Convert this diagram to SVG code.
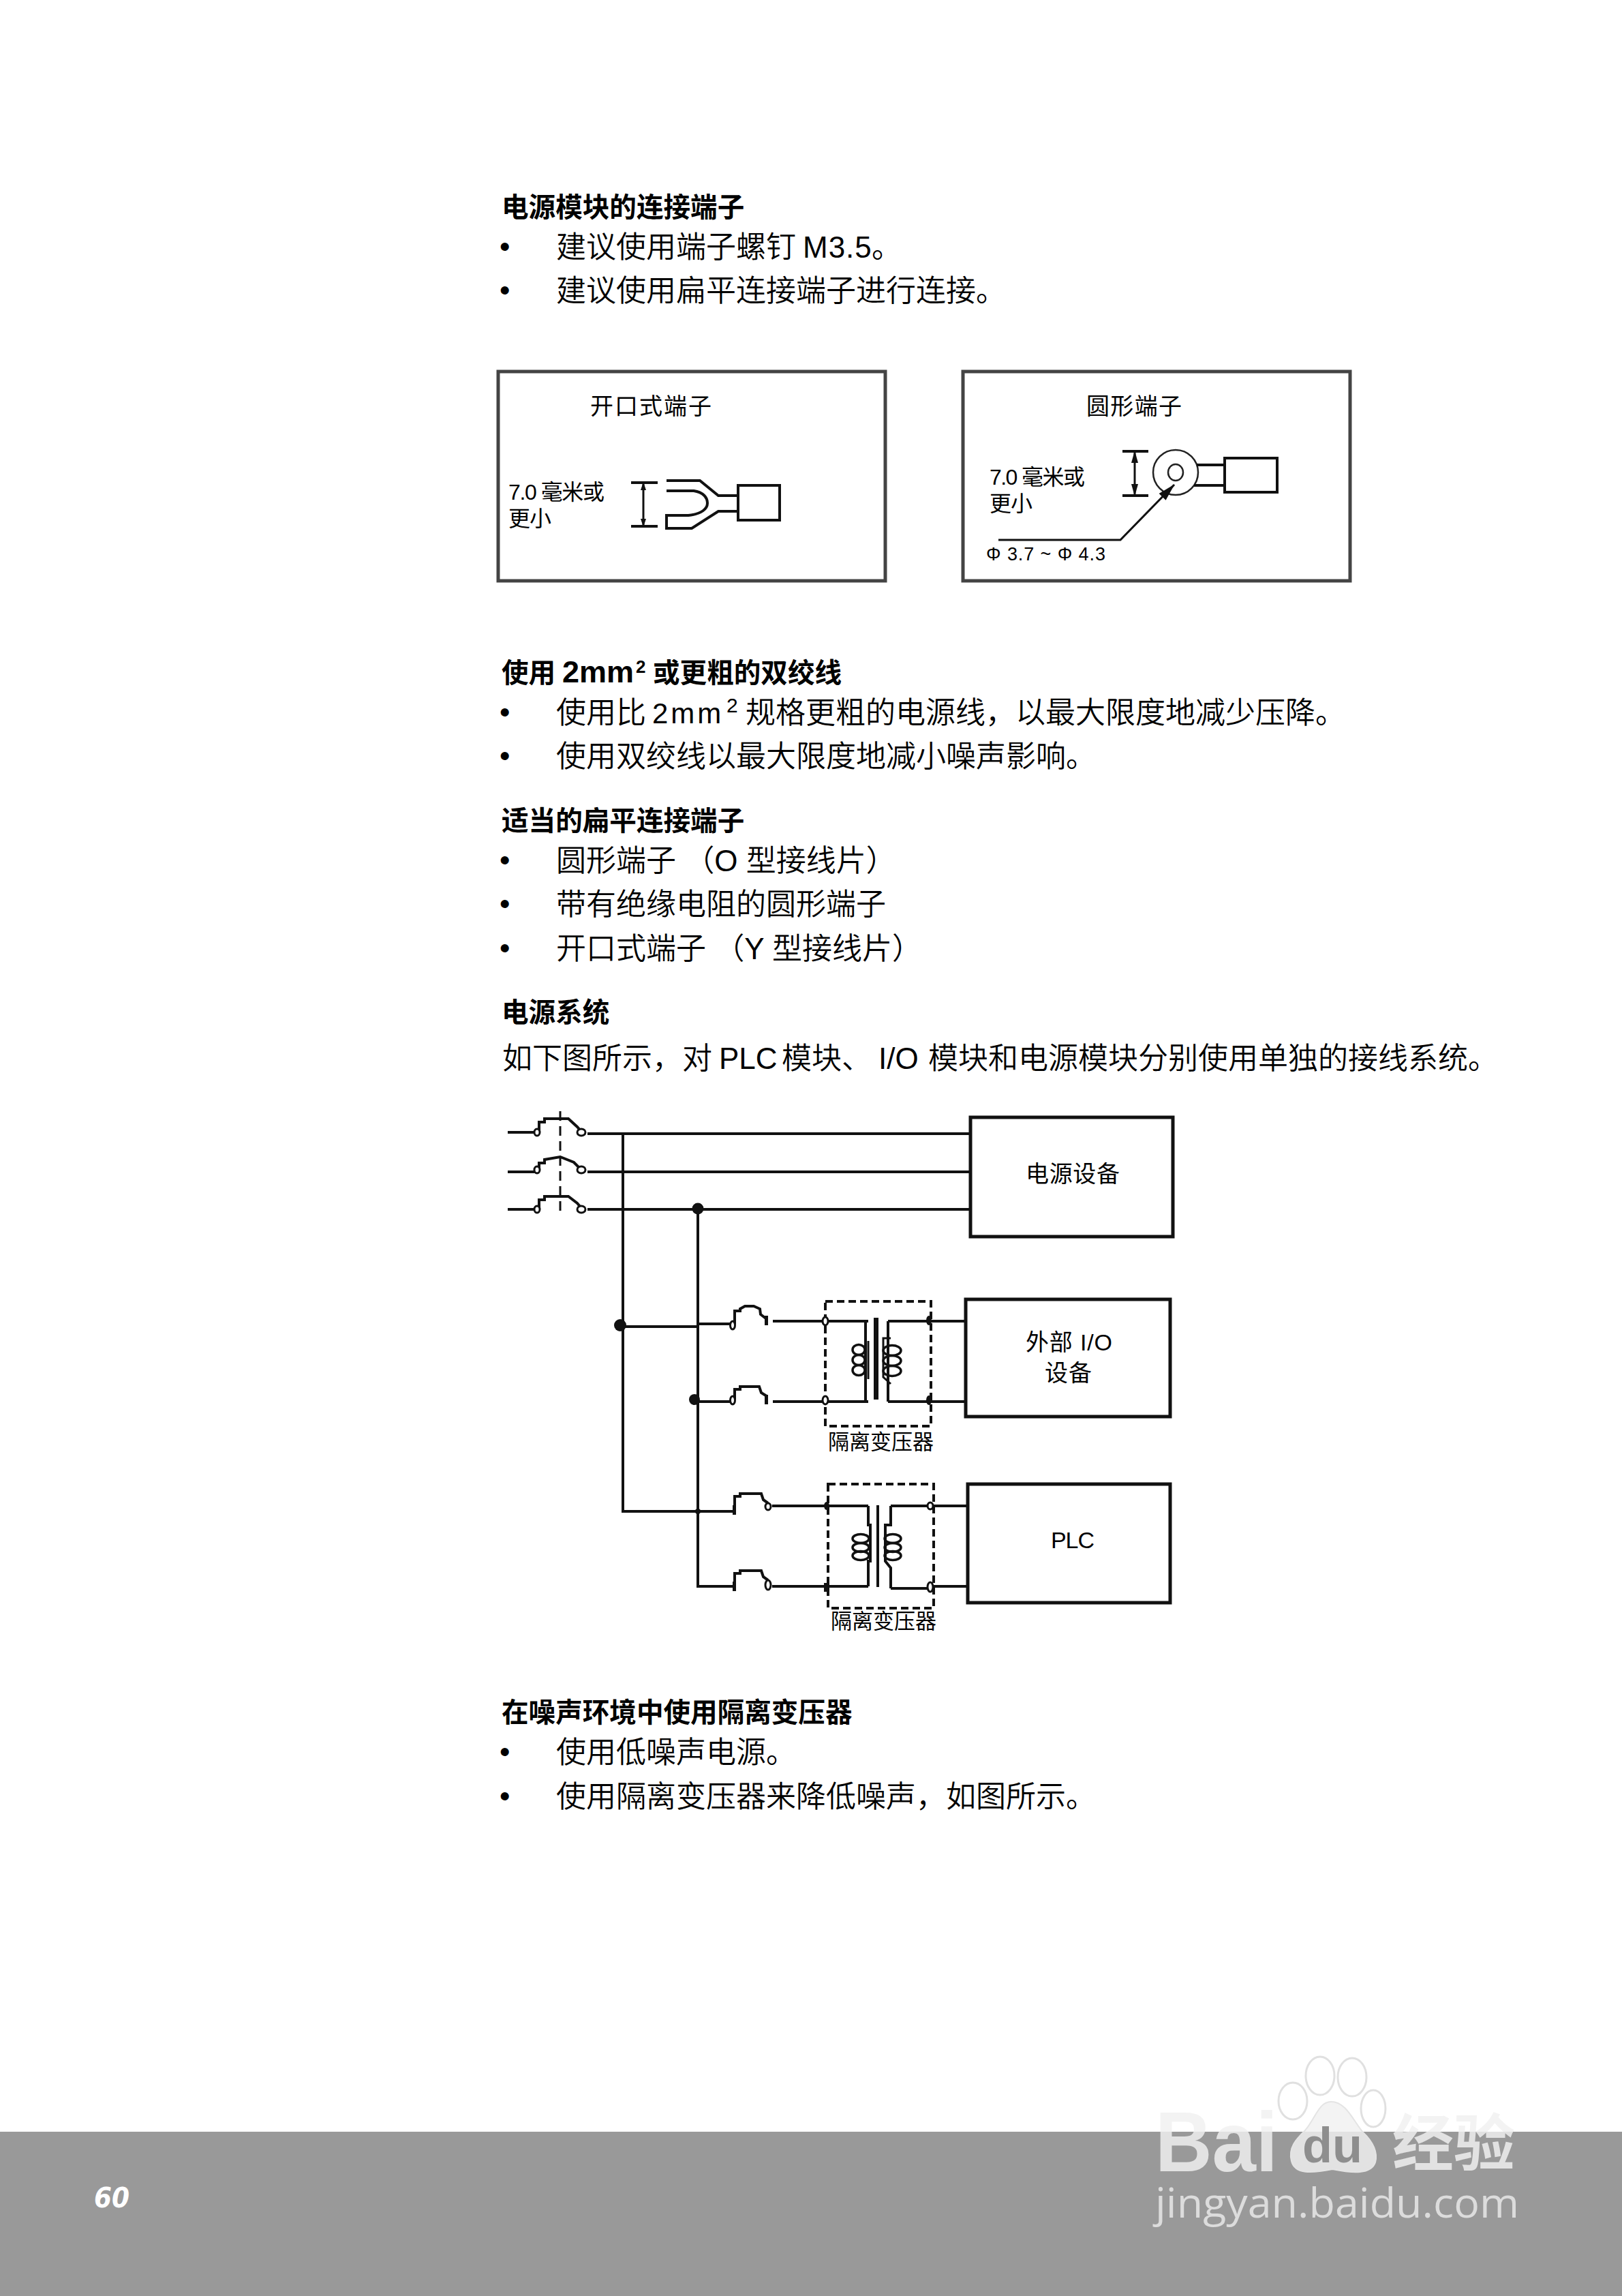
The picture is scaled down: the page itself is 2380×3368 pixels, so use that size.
<svg xmlns="http://www.w3.org/2000/svg" width="2380" height="3368" viewBox="0 0 2380 3368">
<style>
text{font-family:"Liberation Sans","Noto Sans CJK SC",sans-serif;fill:#000}
.h{font-size:39.6px;font-weight:700}
.b{font-size:44px;font-weight:350}
.s{font-size:32px;font-weight:400}
.n{font-size:34px;font-weight:400}
.t{font-size:31px;font-weight:400}
.box{fill:#fff;stroke:#444;stroke-width:5}
.dev{fill:#fff;stroke:#111;stroke-width:5}
.w{fill:none;stroke:#111;stroke-width:4}
.thin{fill:none;stroke:#111;stroke-width:3}
.ring{fill:none;stroke:#222;stroke-width:2.5}
.term{fill:#fff;stroke:#111;stroke-width:3}
.dot{fill:#111;stroke:none}
.dash{fill:none;stroke:#111;stroke-width:4;stroke-dasharray:11 6}
.brk{fill:none;stroke:#111;stroke-width:3;stroke-dasharray:14 8}
.coil{fill:none;stroke:#111;stroke-width:3.5}
</style>
<defs>
<marker id="ah" markerWidth="18" markerHeight="10" refX="17" refY="5" orient="auto-start-reverse" markerUnits="userSpaceOnUse" viewBox="0 0 18 10"><path d="M0 0L18 5L0 10Z" fill="#111"/></marker>
<marker id="as" markerWidth="12" markerHeight="8" refX="11" refY="4" orient="auto-start-reverse" markerUnits="userSpaceOnUse" viewBox="0 0 12 8"><path d="M0 0L12 4L0 8Z" fill="#111"/></marker>
<marker id="al" markerWidth="26" markerHeight="14" refX="25" refY="7" orient="auto" markerUnits="userSpaceOnUse" viewBox="0 0 26 14"><path d="M0 0L26 7L0 14Z" fill="#111"/></marker>
<linearGradient id="wm" gradientUnits="userSpaceOnUse" x1="0" y1="3000" x2="0" y2="3300"><stop offset="0.423" stop-color="#f3f3f3"/><stop offset="0.423" stop-color="#e2e2e2"/></linearGradient>
</defs>
<rect width="2380" height="3368" fill="#fff"/>

<g id="copy">
<text class="h" x="736" y="318">电源模块的连接端子</text>
<text class="b" x="733" y="377">•</text><text class="b" x="816" y="378">建议使用端子螺钉<tspan x="1178" letter-spacing="1">M3.5</tspan><tspan x="1279">。</tspan></text>
<text class="b" x="733" y="441">•</text><text class="b" x="816" y="442">建议使用扁平连接端子进行连接。</text>
<text class="h" x="736" y="1001">使用<tspan x="825" font-size="45">2mm</tspan><tspan x="933" font-size="26" dy="-14">2</tspan><tspan x="958" dy="14">或更粗的双绞线</tspan></text>
<text class="b" x="733" y="1060">•</text><text class="b" x="816" y="1061">使用比<tspan x="957" font-size="42" letter-spacing="4">2mm</tspan><tspan x="1066" font-size="30" dy="-16">2</tspan><tspan x="1094" dy="16">规格更粗的电源线，以最大限度地减少压降。</tspan></text>
<text class="b" x="733" y="1124">•</text><text class="b" x="816" y="1125">使用双绞线以最大限度地减小噪声影响。</text>
<text class="h" x="736" y="1218">适当的扁平连接端子</text>
<text class="b" x="733" y="1277">•</text><text class="b" x="816" y="1278">圆形端子 （O 型接线片）</text>
<text class="b" x="733" y="1341">•</text><text class="b" x="816" y="1342">带有绝缘电阻的圆形端子</text>
<text class="b" x="733" y="1406">•</text><text class="b" x="816" y="1407">开口式端子 （Y 型接线片）</text>
<text class="h" x="736" y="1499">电源系统</text>
<text class="b" x="737" y="1568">如下图所示，对<tspan x="1055">PLC</tspan><tspan x="1147">模块、</tspan><tspan x="1289">I/O</tspan><tspan x="1362">模块和电源模块分别使用单独的接线系统。</tspan></text>
<text class="h" x="736" y="2526">在噪声环境中使用隔离变压器</text>
<text class="b" x="733" y="2585">•</text><text class="b" x="816" y="2586">使用低噪声电源。</text>
<text class="b" x="733" y="2650">•</text><text class="b" x="816" y="2651">使用隔离变压器来降低噪声，如图所示。</text>
</g>

<g id="fork-terminal">
<rect class="box" x="731" y="545" width="568" height="307"/>
<text class="n" x="866" y="608" textLength="178">开口式端子</text>
<text class="s" x="746" y="733" textLength="141">7.0 毫米或</text>
<text class="s" x="746" y="772" textLength="63">更小</text>
<path class="w" d="M926 708H965M926 772H965"/>
<path class="thin" d="M944 708V772" marker-start="url(#as)" marker-end="url(#as)"/>
<path class="w" d="M978 705H1027L1054 727H1083M978 720H1018C1032 722 1038 730 1038 738C1038 746 1030 754 1010 756H978V775H1015L1054 750H1083"/>
<rect class="w" x="1083" y="712" width="61" height="51"/>
</g>

<g id="ring-terminal">
<rect class="box" x="1413" y="545" width="568" height="307"/>
<text class="n" x="1594" y="608" textLength="140">圆形端子</text>
<text class="s" x="1452" y="711" textLength="140">7.0 毫米或</text>
<text class="s" x="1452" y="750" textLength="63">更小</text>
<path class="w" d="M1647 662H1685M1647 727H1685"/>
<path class="thin" d="M1665 662V727" marker-start="url(#ah)" marker-end="url(#ah)"/>
<circle class="ring" cx="1725" cy="693" r="33"/>
<ellipse class="ring" cx="1725" cy="693" rx="11" ry="12"/>
<path class="w" d="M1756 682H1797M1752 712H1797"/>
<rect class="w" x="1797" y="672" width="77" height="50"/>
<path class="thin" d="M1465 792H1644L1723 711" marker-end="url(#al)"/>
<text x="1447" y="822" font-size="27" font-weight="400" textLength="175">Φ 3.7 ~ Φ 4.3</text>
</g>

<g id="connectors">
<path class="w" d="M745 1661H787M862 1663H1424M745 1719H787M862 1719H1424M745 1774H787M862 1774H1424"/>
<path class="w" d="M914 1663V2217H1075M1024 1774V2327H1075M914 1946H1024M1024 1942H1072M1024 2056H1072"/>
<path class="w" d="M1134 1938H1274M1303 1938H1417M1134 2056H1274M1303 2056H1417"/>
<path class="w" d="M1133 2209H1274M1307 2209H1420M1133 2327H1274M1307 2330H1365M1365 2327H1420"/>
<circle class="dot" cx="910" cy="1944" r="9"/>
<circle class="dot" cx="1024" cy="1773" r="8.5"/>
<circle class="dot" cx="1019" cy="2053" r="8"/>
<circle class="dot" cx="1024" cy="2217" r="4"/>
</g>

<g id="main-breaker">
<path class="brk" d="M822 1630V1778"/>
<path class="w" d="M791 1660V1646H799V1641H834L847 1653L853 1660"/>
<path class="w" d="M791 1718V1706H799V1701L822 1697L842 1705L853 1716"/>
<path class="w" d="M791 1773V1760H799V1755H834L847 1765L853 1772"/>
<ellipse class="term" cx="788" cy="1661" rx="4" ry="5"/><ellipse class="term" cx="853" cy="1661" rx="6" ry="5"/>
<ellipse class="term" cx="788" cy="1716" rx="4" ry="5"/><ellipse class="term" cx="853" cy="1716" rx="6" ry="5"/>
<ellipse class="term" cx="788" cy="1774" rx="4" ry="5"/><ellipse class="term" cx="853" cy="1774" rx="6" ry="5"/>
</g>

<g id="io-breakers">
<path class="w" d="M1078 1943V1923H1086V1920L1093 1916H1106L1115 1920L1116 1928L1125 1935"/>
<path class="w" d="M1078 2053V2038H1086V2034H1114L1117 2043L1125 2048"/>
<ellipse class="term" cx="1075" cy="1944" rx="3.5" ry="6"/><ellipse class="term" cx="1075" cy="2054" rx="3.5" ry="6"/>
<rect class="dot" x="1122" y="1930" width="5" height="14"/><rect class="dot" x="1122" y="2046" width="5" height="14"/>
</g>

<g id="io-transformer">
<path class="dash" d="M1211 1909H1366V2092H1211Z"/>
<path class="w" d="M1270 1938V2055"/>
<rect class="dot" x="1282" y="1933" width="7" height="120"/>
<path class="w" d="M1303 1938V2056"/>
<path class="thin" d="M1274 1967V2023M1307 1963H1296V2020L1307 2030"/>
<ellipse class="coil" cx="1260" cy="1980" rx="9" ry="7.5"/><ellipse class="coil" cx="1260" cy="1995" rx="9" ry="7.5"/><ellipse class="coil" cx="1260" cy="2010" rx="9" ry="7.5"/>
<ellipse class="coil" cx="1309" cy="1981" rx="13" ry="7.5"/><ellipse class="coil" cx="1309" cy="1996" rx="13" ry="7.5"/><ellipse class="coil" cx="1309" cy="2011" rx="13" ry="7.5"/>
<ellipse class="term" cx="1211" cy="1938" rx="4" ry="6"/><ellipse class="term" cx="1211" cy="2054" rx="4" ry="6"/>
<ellipse class="dot" cx="1363" cy="1937" rx="4" ry="7"/><ellipse class="dot" cx="1363" cy="2054" rx="4" ry="7"/>
<text class="t" x="1215" y="2126" textLength="155">隔离变压器</text>
</g>

<g id="plc-breakers">
<path class="w" d="M1078 2215V2195H1086V2191H1117L1120 2200L1127 2205"/>
<path class="w" d="M1078 2325V2308H1086V2304H1117L1120 2313L1127 2318"/>
<rect class="dot" x="1075" y="2208" width="5" height="14"/><rect class="dot" x="1075" y="2320" width="5" height="14"/>
<ellipse class="term" cx="1127" cy="2210" rx="4" ry="5"/><ellipse class="term" cx="1127" cy="2325" rx="4" ry="7"/>
</g>

<g id="plc-transformer">
<path class="dash" d="M1215 2177H1370V2359H1215Z"/>
<path class="w" d="M1274 2209V2237H1277V2290H1274V2327"/>
<path class="w" d="M1288 2208V2328"/>
<path class="w" d="M1307 2209V2237H1299V2290L1307 2300V2330"/>
<ellipse class="coil" cx="1263" cy="2257" rx="12" ry="6.5"/><ellipse class="coil" cx="1263" cy="2270" rx="12" ry="6.5"/><ellipse class="coil" cx="1263" cy="2282" rx="12" ry="6.5"/>
<ellipse class="coil" cx="1310" cy="2257" rx="12" ry="6.5"/><ellipse class="coil" cx="1310" cy="2270" rx="12" ry="6.5"/><ellipse class="coil" cx="1310" cy="2282" rx="12" ry="6.5"/>
<ellipse class="dot" cx="1213" cy="2209" rx="4" ry="6"/><rect class="dot" x="1209" y="2322" width="8" height="13"/>
<ellipse class="term" cx="1365" cy="2209" rx="4" ry="5"/><ellipse class="term" cx="1365" cy="2328" rx="4" ry="7"/>
<text class="t" x="1219" y="2389" textLength="155">隔离变压器</text>
</g>

<g id="power-device">
<rect class="dev" x="1424" y="1639" width="297" height="175"/>
<text class="n" x="1505" y="1734" textLength="138">电源设备</text>
</g>
<g id="io-device">
<rect class="dev" x="1417" y="1906" width="300" height="172"/>
<text class="n" x="1505" y="1981" textLength="127">外部 I/O</text>
<text class="n" x="1533" y="2026" textLength="69">设备</text>
</g>
<g id="plc-device">
<rect class="dev" x="1420" y="2177" width="297" height="174"/>
<text class="n" x="1542" y="2271" textLength="64">PLC</text>
</g>

<g id="footer">
<rect x="0" y="3127" width="2380" height="241" fill="#999"/>
<text x="138" y="3238" font-size="41" font-weight="700" font-style="italic" textLength="52" lengthAdjust="spacingAndGlyphs" style="fill:#fff;font-family:'DejaVu Sans',sans-serif">60</text>
</g>

<g id="watermark">
<ellipse cx="1937" cy="3045" rx="21" ry="28" fill="#fff" stroke="#e0e0e0" stroke-width="3"/>
<ellipse cx="1984" cy="3047" rx="21" ry="28" fill="#fff" stroke="#e0e0e0" stroke-width="3"/>
<ellipse cx="1897" cy="3082" rx="21" ry="27" fill="#fff" stroke="#e0e0e0" stroke-width="3"/>
<ellipse cx="2015" cy="3093" rx="18" ry="27" fill="#fff" stroke="#e0e0e0" stroke-width="3"/>
<path d="M1953 3083C1975 3083 1985 3110 2000 3128C2015 3142 2022 3158 2018 3172C2012 3190 1985 3188 1955 3182C1925 3188 1900 3190 1895 3170C1890 3150 1902 3138 1915 3125C1930 3108 1935 3083 1953 3083Z" fill="url(#wm)" stroke="#e4e4e4" stroke-width="2"/>
<text x="1695" y="3185" font-size="125" font-weight="700" textLength="180" lengthAdjust="spacingAndGlyphs" style="fill:url(#wm)">Bai</text>
<text x="1911" y="3172" font-size="72" font-weight="700" textLength="88" lengthAdjust="spacingAndGlyphs" style="fill:#8e8e8e">du</text>
<text x="2043" y="3176" font-size="90" font-weight="700" textLength="180" lengthAdjust="spacingAndGlyphs" style="fill:url(#wm);font-family:'Noto Sans CJK SC',sans-serif">经验</text>
<text x="1695" y="3253" font-size="60" textLength="534" lengthAdjust="spacingAndGlyphs" style="fill:#dcdcdc;font-family:'Open Sans',sans-serif">jingyan.baidu.com</text>
</g>
</svg>
